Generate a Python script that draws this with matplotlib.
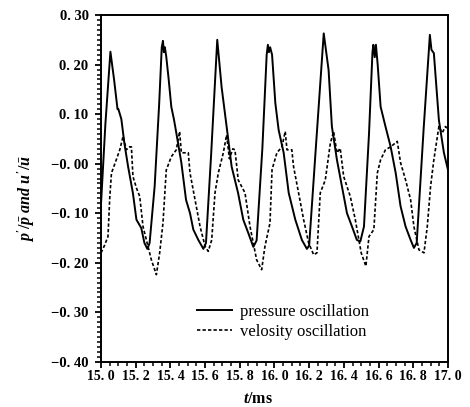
import matplotlib
matplotlib.use('Agg')
import matplotlib.pyplot as plt
from matplotlib.ticker import MultipleLocator, FixedLocator, FixedFormatter

plt.rcParams['font.family'] = ['Liberation Serif', 'DejaVu Serif']
plt.rcParams['mathtext.fontset'] = 'custom'
plt.rcParams['mathtext.it'] = 'Liberation Serif:italic:bold'
plt.rcParams['mathtext.rm'] = 'Liberation Serif:bold'

# pressure oscillation p'/p
t_p = [15.000, 15.025, 15.054, 15.075, 15.095, 15.100, 15.117, 15.135, 15.156, 15.184,
       15.204, 15.232, 15.250, 15.267, 15.280, 15.309, 15.335, 15.350, 15.357, 15.362,
       15.368, 15.376, 15.390, 15.405, 15.420, 15.434, 15.463, 15.490, 15.513, 15.532,
       15.561, 15.590, 15.605, 15.635, 15.670, 15.695, 15.724, 15.753, 15.790, 15.820,
       15.849, 15.878, 15.897, 15.930, 15.955, 15.962, 15.968, 15.975, 15.986, 16.005,
       16.024, 16.053, 16.082, 16.120, 16.158, 16.187, 16.200, 16.240, 16.284, 16.312,
       16.331, 16.360, 16.389, 16.418, 16.447, 16.475, 16.495, 16.516, 16.545, 16.565,
       16.570, 16.578, 16.585, 16.595, 16.612, 16.640, 16.670, 16.699, 16.727, 16.756,
       16.785, 16.804, 16.820, 16.860, 16.896, 16.905, 16.919, 16.948, 16.977, 17.000]
pressure = [-0.080, 0.080, 0.226, 0.170, 0.110, 0.110, 0.090, 0.040, -0.006, -0.060,
            -0.113, -0.130, -0.160, -0.172, -0.160, -0.046, 0.120, 0.235, 0.248, 0.225,
            0.235, 0.216, 0.170, 0.115, 0.090, 0.062, 0.002, -0.073, -0.100, -0.133,
            -0.154, -0.172, -0.160, 0.020, 0.250, 0.155, 0.075, -0.006, -0.059, -0.113,
            -0.140, -0.168, -0.155, 0.030, 0.220, 0.240, 0.225, 0.235, 0.220, 0.122,
            0.068, 0.022, -0.059, -0.113, -0.154, -0.172, -0.165, 0.040, 0.263, 0.189,
            0.075, 0.008, -0.046, -0.100, -0.127, -0.154, -0.157, -0.127, 0.060, 0.225,
            0.240, 0.215, 0.240, 0.200, 0.115, 0.075, 0.034, -0.019, -0.086, -0.127,
            -0.154, -0.170, -0.160, 0.070, 0.260, 0.230, 0.223, 0.088, 0.022, -0.012]

# velocity oscillation u'/u
t_u = [15.000, 15.020, 15.040, 15.050, 15.060, 15.088, 15.108, 15.127, 15.146, 15.160,
       15.175, 15.184, 15.205, 15.223, 15.242, 15.290, 15.319, 15.338, 15.357, 15.376,
       15.405, 15.434, 15.453, 15.463, 15.484, 15.503, 15.513, 15.542, 15.571, 15.600,
       15.618, 15.638, 15.657, 15.676, 15.705, 15.724, 15.740, 15.760, 15.772, 15.791,
       15.830, 15.859, 15.897, 15.926, 15.945, 15.974, 15.986, 16.014, 16.043, 16.062,
       16.072, 16.100, 16.110, 16.139, 16.168, 16.197, 16.226, 16.245, 16.264, 16.293,
       16.322, 16.341, 16.360, 16.379, 16.399, 16.437, 16.466, 16.500, 16.527, 16.545,
       16.573, 16.593, 16.612, 16.640, 16.670, 16.708, 16.727, 16.756, 16.785, 16.804,
       16.833, 16.862, 16.881, 16.900, 16.919, 16.948, 16.967, 16.986, 17.000]
velocity = [-0.180, -0.165, -0.147, -0.070, -0.019, 0.008, 0.028, 0.055, 0.028, 0.034,
            0.034, -0.026, -0.050, -0.066, -0.127, -0.194, -0.224, -0.180, -0.120, -0.013,
            0.014, 0.028, 0.065, 0.022, 0.022, 0.022, -0.019, -0.073, -0.127, -0.167,
            -0.177, -0.154, -0.059, -0.019, 0.022, 0.058, 0.010, 0.030, 0.028, -0.033,
            -0.059, -0.127, -0.194, -0.214, -0.167, -0.120, -0.012, 0.022, 0.034, 0.065,
            0.028, 0.028, -0.006, -0.059, -0.113, -0.160, -0.184, -0.180, -0.059, -0.033,
            0.041, 0.065, 0.022, 0.031, -0.026, -0.066, -0.113, -0.180, -0.207, -0.147,
            -0.133, -0.019, 0.008, 0.028, 0.034, 0.045, 0.002, -0.033, -0.073, -0.127,
            -0.174, -0.180, -0.127, -0.046, 0.008, 0.075, 0.062, 0.075, 0.070]

x_ticks = [15.0, 15.2, 15.4, 15.6, 15.8, 16.0, 16.2, 16.4, 16.6, 16.8, 17.0]
x_labels = ['15. 0', '15. 2', '15. 4', '15. 6', '15. 8', '16. 0', '16. 2', '16. 4', '16. 6', '16. 8', '17. 0']
y_ticks = [0.30, 0.20, 0.10, 0.00, -0.10, -0.20, -0.30, -0.40]
y_labels = ['0. 30', '0. 20', '0. 10', '\u22120. 00', '\u22120. 10', '\u22120. 20', '\u22120. 30', '\u22120. 40']

fig = plt.figure(figsize=(4.70, 4.07), dpi=100)
ax = fig.add_axes([0.215, 0.111, 0.738, 0.852])

ax.plot(t_p, pressure, color='black', lw=1.4, label='pressure oscillation')
ax.plot(t_u, velocity, color='black', lw=1.2, dashes=(2.0, 1.3), label='velosity oscillation')

ax.set_xlim(15.0, 17.0)
ax.set_ylim(-0.40, 0.30)
ax.xaxis.set_major_locator(FixedLocator(x_ticks))
ax.xaxis.set_major_formatter(FixedFormatter(x_labels))
ax.xaxis.set_minor_locator(MultipleLocator(0.05))
ax.yaxis.set_major_locator(FixedLocator(y_ticks))
ax.yaxis.set_major_formatter(FixedFormatter(y_labels))
ax.yaxis.set_minor_locator(MultipleLocator(0.01))

ax.tick_params(which='major', direction='out', length=4, width=1.3)
ax.tick_params(which='minor', direction='out', length=3, width=1.1)
ax.tick_params(axis='y', pad=5, labelsize=10.5)
ax.tick_params(axis='x', pad=2, labelsize=10)
for lab in ax.get_xticklabels() + ax.get_yticklabels():
    lab.set_fontweight('bold')
for s in ax.spines.values():
    s.set_linewidth(1.4)

ax.set_xlabel(r'$t$/ms', fontsize=11.5, fontweight='bold')
ax.xaxis.set_label_coords(0.452, -0.085)
ax.set_ylabel(r"$p'/\bar{p}\ and\ u'/\bar{u}$", fontsize=11.5)
ax.yaxis.set_label_coords(-0.185, 0.47)

ax.legend(loc='center left', bbox_to_anchor=(0.277, 0.115), frameon=False,
          fontsize=12, handlelength=2.1, handletextpad=0.45, labelspacing=0.25,
          borderpad=0, borderaxespad=0)

fig.savefig('out.png', dpi=100)
